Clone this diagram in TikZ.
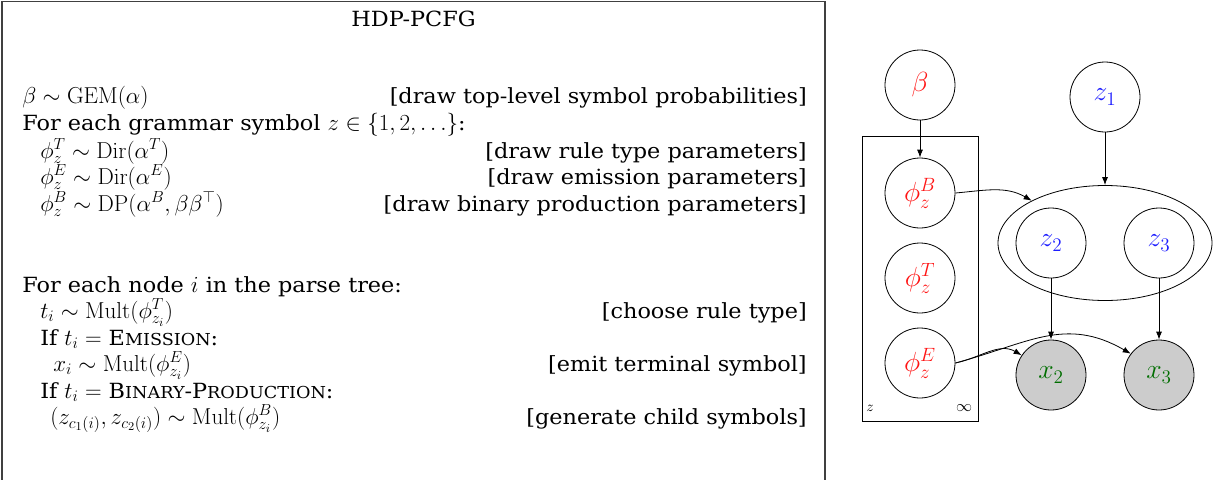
\documentclass[tikz,border=0pt]{standalone}
\usepackage[no-math]{fontspec}
\setmainfont[Scale=0.95,FakeStretch=1.07]{DejaVu Serif}
\usepackage{amssymb}
\DeclareMathSizes{16.5}{16.5}{12.5}{9.5}
\usetikzlibrary{arrows.meta,shapes.geometric}
\definecolor{pred}{RGB}{255,20,20}
\definecolor{pblue}{RGB}{30,30,255}
\definecolor{pgreen}{RGB}{0,110,0}
\definecolor{obsfill}{RGB}{204,204,204}
\newcommand{\mysc}[2]{#1{\fontsize{13}{13}\selectfont #2}}
\begin{document}
\begin{tikzpicture}[x=0.75pt,y=-0.75pt,
  txt/.style={anchor=base west,inner sep=0pt,font=\fontsize{16.5}{18}\selectfont},
  rtxt/.style={anchor=base east,inner sep=0pt,font=\fontsize{16.5}{18}\selectfont},
  gm/.style={circle,draw,line width=0.6pt,minimum size=52.5pt,inner sep=0pt,font=\fontsize{19.5}{20}\selectfont},
  obsnode/.style={gm,fill=obsfill},
  arr/.style={-{Latex[length=6pt,width=4.5pt]},line width=0.6pt}]
\useasboundingbox (0,0) rectangle (1214,479);
% left box
\draw[line width=0.8pt,black!75] (2,495) -- (2,1.5) -- (825,1.5) -- (825,495);
\node[anchor=base,inner sep=0pt,font=\fontsize{16.5}{18}\selectfont] (title) at (413.5,26) {HDP-PCFG};
% first block
\node[txt] (l1) at (22,103) {$\beta\sim\mathrm{GEM}(\alpha)$};
\node[rtxt] (r1) at (807,103) {[draw top-level symbol probabilities]};
\node[txt] (l2) at (22,130) {For each grammar symbol $z\in\{1,2,\dots\}$:};
\node[txt] (l3) at (40,158) {$\phi^T_z\sim\mathrm{Dir}(\alpha^T)$};
\node[rtxt] (r3) at (807,158) {[draw rule type parameters]};
\node[txt] (l4) at (40,184) {$\phi^E_z\sim\mathrm{Dir}(\alpha^E)$};
\node[rtxt] (r4) at (807,184) {[draw emission parameters]};
\node[txt] (l5) at (40,211) {$\phi^B_z\sim\mathrm{DP}(\alpha^B,\beta\beta^\top)$};
\node[rtxt] (r5) at (807,211) {[draw binary production parameters]};
% second block
\node[txt] (l6) at (22,292) {For each node $i$ in the parse tree:};
\node[txt] (l7) at (40,318) {$t_i\sim\mathrm{Mult}(\phi^T_{z_i})$};
\node[rtxt] (r7) at (807,318) {[choose rule type]};
\node[txt] (l8) at (40,345) {If $t_i=$ \mysc{E}{MISSION}:};
\node[txt] (l9) at (53,371) {$x_i\sim\mathrm{Mult}(\phi^E_{z_i})$};
\node[rtxt] (r9) at (807,371) {[emit terminal symbol]};
\node[txt] (l10) at (40,398) {If $t_i=$ \mysc{B}{INARY}-\mysc{P}{RODUCTION}:};
\node[txt] (l11) at (50,424) {$(z_{c_1(i)},z_{c_2(i)})\sim\mathrm{Mult}(\phi^B_{z_i})$};
\node[rtxt] (r11) at (807,424) {[generate child symbols]};
% graphical model
\node[draw,line width=0.6pt,minimum width=87pt,minimum height=213.75pt,inner sep=0pt] (plate) at (920,278.5) {};
\node[inner sep=0pt,font=\fontsize{11}{12}\selectfont] (pz) at (870,408) {$z$};
\node[inner sep=0pt,font=\fontsize{13}{14}\selectfont] (pinf) at (964,408) {$\infty$};
\node[gm,text=pred] (beta) at (920,85) {$\beta$};
\node[gm,text=pblue] (z1) at (1105,97) {$z_1$};
\node[gm,text=pred] (phiB) at (920,193) {$\phi^B_z$};
\node[gm,text=pred] (phiT) at (920,278) {$\phi^T_z$};
\node[gm,text=pred] (phiE) at (920,363) {$\phi^E_z$};
\node[ellipse,draw,line width=0.6pt,minimum width=160.5pt,minimum height=86.25pt,inner sep=0pt] (ell) at (1105,243) {};
\node[gm,text=pblue] (z2) at (1051,243) {$z_2$};
\node[gm,text=pblue] (z3) at (1159,243) {$z_3$};
\node[obsnode,text=pgreen] (x2) at (1051,375) {$x_2$};
\node[obsnode,text=pgreen] (x3) at (1159,375) {$x_3$};
\draw[arr] (beta) -- (phiB);
\draw[arr] (z1) -- (ell.north);
\draw[arr] (z2) -- (x2);
\draw[arr] (z3) -- (x3);
\draw[arr] (phiB.east) to[out=5,in=150] (ell.150);
\draw[arr] (phiE.east) to[out=12,in=150] (x2.146);
\draw[arr] (phiE.east) to[out=15,in=150,looseness=1.1] (x3.143);
\end{tikzpicture}
\end{document}
